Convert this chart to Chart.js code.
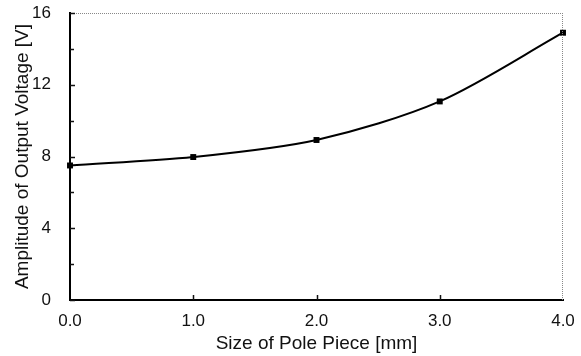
<!DOCTYPE html>
<html>
<head>
<meta charset="utf-8">
<script src="https://cdn.jsdelivr.net/npm/chart.js@4"></script>
<style>
  html, body { margin: 0; padding: 0; background: #fff; }
  #wrap { width: 581px; height: 356px; }
</style>
</head>
<body>
<div id="wrap"><canvas id="poleChart" width="581" height="356"></canvas></div>
<script>
// Data
const poleSize = [0.0, 1.0, 2.0, 3.0, 4.0];
const amplitude = [7.5, 7.97, 8.92, 11.07, 14.9];
const yMajorTicks = [0, 4, 8, 12, 16];
const yMinorTicks = [2, 6, 10, 14];
const xMajorTicks = [1, 2, 3];

Chart.defaults.font.family = "'Liberation Sans', Arial, sans-serif";
Chart.defaults.color = '#111';

// inward tick marks + dotted top/right frame
const frame = {
    id: 'frame',
    afterDatasetsDraw(chart) {
        const { ctx, chartArea: a, scales: { x, y } } = chart;
        ctx.save();
        ctx.strokeStyle = '#888';
        ctx.lineWidth = 1;
        ctx.setLineDash([1, 1]);
        ctx.beginPath();
        ctx.moveTo(a.left, a.top + 0.5);
        ctx.lineTo(a.right, a.top + 0.5);
        ctx.moveTo(a.right - 0.5, a.top);
        ctx.lineTo(a.right - 0.5, a.bottom);
        ctx.stroke();
        ctx.setLineDash([]);
        ctx.strokeStyle = '#111';
        ctx.lineWidth = 1.5;
        ctx.beginPath();
        yMajorTicks.concat(yMinorTicks).forEach(v => {
            const py = Math.round(y.getPixelForValue(v)) + 0.5;
            const len = yMajorTicks.includes(v) ? 5 : 4;
            ctx.moveTo(a.left, py);
            ctx.lineTo(a.left + len, py);
        });
        xMajorTicks.forEach(v => {
            const px = Math.round(x.getPixelForValue(v)) + 0.5;
            ctx.moveTo(px, a.bottom);
            ctx.lineTo(px, a.bottom - 5);
        });
        ctx.stroke();
        ctx.restore();
    }
};

new Chart(document.getElementById('poleChart'), {
    type: 'line',
    data: {
        datasets: [{
            data: poleSize.map((v, i) => ({ x: v, y: amplitude[i] })),
            borderColor: '#000',
            backgroundColor: '#000',
            borderWidth: 2,
            tension: 0.3,
            pointStyle: 'rect',
            pointRadius: 4.2,
            pointBorderWidth: 0,
            clip: false
        }]
    },
    options: {
        responsive: false,
        animation: false,
        layout: { padding: { left: 0, right: 18, top: 13, bottom: 0 } },
        plugins: { legend: { display: false }, tooltip: { enabled: false } },
        scales: {
            x: {
                type: 'linear',
                min: 0,
                max: 4,
                grid: { display: false },
                border: { display: true, color: '#000', width: 2 },
                ticks: {
                    stepSize: 1,
                    padding: 3,
                    font: { size: 17 },
                    callback: v => v.toFixed(1)
                },
                title: {
                    display: true,
                    text: 'Size of Pole Piece [mm]',
                    font: { size: 19 },
                    padding: { top: 0, bottom: 1 }
                },
                afterFit: s => {
                    s.height = 56;
                    s.paddingLeft = 0;
                    s.paddingRight = 0;
                }
            },
            y: {
                min: 0,
                max: 16,
                grid: { display: false },
                border: { display: true, color: '#000', width: 2 },
                ticks: {
                    stepSize: 4,
                    padding: 11,
                    font: { size: 17 }
                },
                title: {
                    display: true,
                    text: 'Amplitude of Output Voltage [V]',
                    font: { size: 19 },
                    padding: { top: 11, bottom: 0 }
                },
                afterFit: s => {
                    s.width = 70;
                    s.paddingTop = 0;
                    s.paddingBottom = 0;
                }
            }
        }
    },
    plugins: [frame]
});
</script>
</body>
</html>
